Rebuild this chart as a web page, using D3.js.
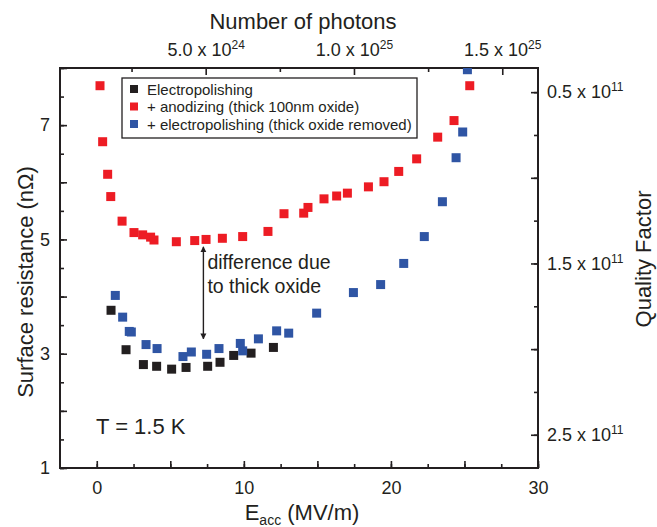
<!DOCTYPE html>
<html lang="en">
<head>
<meta charset="UTF-8">
<title>Surface resistance vs Eacc</title>
<script src="https://cdnjs.cloudflare.com/ajax/libs/d3/7.8.5/d3.min.js"></script>
<style>
  html, body { margin: 0; padding: 0; background: #fff; }
  svg text { font-family: "Liberation Sans", Arial, Helvetica, sans-serif; fill: #231f20; }
</style>
</head>
<body>
<div id="chart"></div>
<script>
// electropolishing (black)
var epX = [0.97, 1.99, 3.17, 4.07, 5.09, 6.07, 7.54, 8.38, 9.31, 10.49, 12.01];
var epY = [3.76, 3.07, 2.81, 2.78, 2.73, 2.76, 2.78, 2.85, 2.97, 3.01, 3.11];

// + anodizing (red)
var anX = [0.22, 0.40, 0.74, 0.95, 1.72, 2.53, 3.12, 3.66, 3.89, 5.41, 6.66, 7.43, 8.54, 9.92,
           11.64, 12.73, 14.07, 14.36, 15.45, 16.31, 17.04, 18.47, 19.53, 20.53, 21.75, 23.18, 24.29, 25.36];
var anY = [7.69, 6.71, 6.14, 5.75, 5.32, 5.12, 5.08, 5.04, 4.99, 4.96, 4.98, 5.00, 5.02, 5.05,
           5.14, 5.45, 5.46, 5.56, 5.71, 5.76, 5.81, 5.92, 6.01, 6.19, 6.41, 6.79, 7.08, 7.69];

// + electropolishing again (blue)
var reX = [25.2, 24.88, 24.43, 23.5, 22.27, 20.87, 19.30, 17.45, 14.95, 13.05, 12.23, 10.99,
           9.92, 9.76, 8.31, 7.47, 6.43, 5.86, 4.10, 3.35, 2.35, 2.21, 1.76, 1.26];
var reY = [7.97, 6.88, 6.43, 5.66, 5.05, 4.58, 4.21, 4.07, 3.71, 3.36, 3.40, 3.26,
           3.05, 3.18, 3.09, 2.99, 3.03, 2.95, 3.09, 3.16, 3.38, 3.39, 3.64, 4.02];

var legendLabels = ['Electropolishing', '+ anodizing (thick 100nm oxide)', '+ electropolishing (thick oxide removed)'];
var seriesColors = ['#231f20', '#ed1c24', '#2f55a4'];

var leftTicks = [1, 2, 3, 4, 5, 6, 7, 8];
var leftLabelled = [1, 3, 5, 7];
var bottomLabelled = [0, 10, 20, 30];
var topTicks = [5, 10, 15];        // x 10^24 photons
var topLabels = [['5.0 x 10', '24'], ['1.0 x 10', '25'], ['1.5 x 10', '25']];
var rightTicks = [0.5, 1.0, 1.5, 2.0, 2.5];  // x 10^11
var rightLabelled = [0.5, 1.5, 2.5];

// arrow: x, top, bottom
var arrowPos = [7.25, 4.87, 3.26];

var W = 657, H = 527;
var L = 60, R = 538, T = 68, B = 468;
var ink = '#231f20';

var svg = d3.select('#chart').append('svg')
    .attr('width', W).attr('height', H);

var x = d3.scaleLinear().domain([-2.5, 30]).range([L, R]);
var y = d3.scaleLinear().domain([1, 8]).range([B, T]);
var xTop = d3.scaleLinear().domain([0.0875, 16.205]).range([L, R]);
var yRight = d3.scaleLinear().domain([0.359, 2.694]).range([T, B]);

svg.append('defs').append('clipPath').attr('id', 'plotClip')
    .append('rect').attr('x', L).attr('y', T).attr('width', R - L).attr('height', B - T);

function styleAxis(g) {
    g.select('.domain').remove();
    g.selectAll('.tick line').attr('stroke', ink).attr('stroke-width', 1.6);
    g.selectAll('.tick text').attr('font-size', 18).attr('fill', ink)
        .style('font-family', '"Liberation Sans", Arial, sans-serif');
}

// left axis
svg.append('g').attr('transform', 'translate(' + L + ',0)')
    .call(d3.axisLeft(y).tickValues(d3.range(1, 8.01, 0.5)).tickSize(-4).tickFormat(''))
    .call(styleAxis);
svg.append('g').attr('transform', 'translate(' + L + ',0)')
    .call(d3.axisLeft(y).tickValues(leftTicks).tickSize(-7).tickPadding(10)
        .tickFormat(function (d) { return leftLabelled.indexOf(d) >= 0 ? d : ''; }))
    .call(styleAxis);

// bottom axis
svg.append('g').attr('transform', 'translate(0,' + B + ')')
    .call(d3.axisBottom(x).tickValues(d3.range(0, 30.01, 2.5)).tickSize(-4).tickFormat(''))
    .call(styleAxis);
svg.append('g').attr('transform', 'translate(0,' + B + ')')
    .call(d3.axisBottom(x).tickValues(d3.range(0, 30.01, 5)).tickSize(-7).tickPadding(13)
        .tickFormat(function (d) { return bottomLabelled.indexOf(d) >= 0 ? d : ''; }))
    .call(styleAxis);

// top axis
svg.append('g').attr('transform', 'translate(0,' + T + ')')
    .call(d3.axisTop(xTop).tickValues([2.5, 7.5, 12.5]).tickSize(-4).tickFormat(''))
    .call(styleAxis);
var topAxis = svg.append('g').attr('transform', 'translate(0,' + T + ')')
    .call(d3.axisTop(xTop).tickValues(topTicks).tickSize(-7).tickPadding(12))
    .call(styleAxis);
topAxis.selectAll('.tick text').each(function (d, i) {
    var t = d3.select(this).text('');
    t.append('tspan').text(topLabels[i][0]);
    t.append('tspan').attr('font-size', 12).attr('dy', -7).text(topLabels[i][1]);
});

// right axis
svg.append('g').attr('transform', 'translate(' + R + ',0)')
    .call(d3.axisRight(yRight).tickValues(d3.range(0.5, 2.51, 0.25)).tickSize(-4).tickFormat(''))
    .call(styleAxis);
var rightAxis = svg.append('g').attr('transform', 'translate(' + R + ',0)')
    .call(d3.axisRight(yRight).tickValues(rightTicks).tickSize(-7).tickPadding(9))
    .call(styleAxis);
rightAxis.selectAll('.tick text').each(function (d) {
    var t = d3.select(this).text('');
    if (rightLabelled.indexOf(d) < 0) return;
    t.append('tspan').text(d3.format('.1f')(d) + ' x 10');
    t.append('tspan').attr('font-size', 12).attr('dy', -7).text('11');
});

// frame
svg.append('rect').attr('x', L).attr('y', T).attr('width', R - L).attr('height', B - T)
    .attr('fill', 'none').attr('stroke', ink).attr('stroke-width', 2);

// data
var plot = svg.append('g').attr('clip-path', 'url(#plotClip)');
var series = [[anX, anY, 1], [epX, epY, 0], [reX, reY, 2]];
var S = 9;
series.forEach(function (s) {
    plot.selectAll(null).data(d3.range(s[0].length)).enter().append('rect')
        .attr('x', function (i) { return x(s[0][i]) - S / 2; })
        .attr('y', function (i) { return y(s[1][i]) - S / 2; })
        .attr('width', S).attr('height', S)
        .attr('fill', seriesColors[s[2]]);
});

// legend
var lg = svg.append('g').attr('transform', 'translate(122,78)');
lg.append('rect').attr('width', 295).attr('height', 60)
    .attr('fill', '#fff').attr('stroke', ink).attr('stroke-width', 1.3);
legendLabels.forEach(function (lab, i) {
    var row = lg.append('g').attr('transform', 'translate(0,' + (11 + i * 17.5) + ')');
    row.append('rect').attr('x', 8).attr('y', -4).attr('width', 8).attr('height', 8)
        .attr('fill', seriesColors[i]);
    row.append('text').attr('x', 25).attr('y', 5.5).attr('font-size', 15).text(lab);
});

// arrow annotation
var defs = svg.select('defs');
defs.append('marker').attr('id', 'ah').attr('viewBox', '0 0 10 10')
    .attr('refX', 9).attr('refY', 5).attr('markerWidth', 6).attr('markerHeight', 8)
    .attr('orient', 'auto-start-reverse').attr('markerUnits', 'userSpaceOnUse')
    .append('path').attr('d', 'M0,0 L10,5 L0,10 Z').attr('fill', ink);
svg.append('line')
    .attr('x1', x(arrowPos[0])).attr('x2', x(arrowPos[0]))
    .attr('y1', y(arrowPos[1])).attr('y2', y(arrowPos[2]))
    .attr('stroke', ink).attr('stroke-width', 1.4)
    .attr('marker-start', 'url(#ah)').attr('marker-end', 'url(#ah)');
var note = svg.append('text').attr('font-size', 19.5);
note.append('tspan').attr('x', x(arrowPos[0]) + 4).attr('y', 269).text('difference due');
note.append('tspan').attr('x', x(arrowPos[0]) + 4).attr('y', 293).text('to thick oxide');

svg.append('text').attr('x', 96).attr('y', 434).attr('font-size', 22).text('T = 1.5 K');

// axis titles
svg.append('text').attr('x', 303).attr('y', 29).attr('text-anchor', 'middle')
    .attr('font-size', 22).text('Number of photons');
var xt = svg.append('text').attr('x', 302).attr('y', 520).attr('text-anchor', 'middle')
    .attr('font-size', 22);
xt.append('tspan').text('E');
xt.append('tspan').attr('font-size', 14).attr('dy', 5).text('acc');
xt.append('tspan').attr('dy', -5).text(' (MV/m)');
svg.append('text').attr('transform', 'translate(33,282) rotate(-90)')
    .attr('text-anchor', 'middle').attr('font-size', 22).text('Surface resistance (n\u03a9)');
svg.append('text').attr('transform', 'translate(651,259) rotate(-90)')
    .attr('text-anchor', 'middle').attr('font-size', 22).text('Quality Factor');
</script>
</body>
</html>
